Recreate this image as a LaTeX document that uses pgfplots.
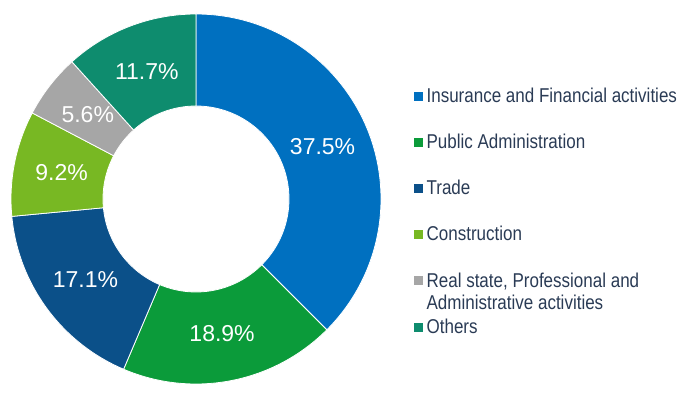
\documentclass[border=0pt]{standalone}
\usepackage{pgfplots}
\pgfplotsset{compat=1.18}
\usepackage{pgfplotstable}
\usepackage{fontspec}
\setmainfont{Liberation Sans}
\newfontfamily\legfont{Liberation Sans}[FakeStretch=0.85]
\definecolor{cIns}{HTML}{0070C0}
\definecolor{cPub}{HTML}{0B9B3A}
\definecolor{cTrade}{HTML}{0B5089}
\definecolor{cCon}{HTML}{78B823}
\definecolor{cReal}{HTML}{A6A6A6}
\definecolor{cOth}{HTML}{0E8C6E}
\definecolor{legtext}{HTML}{2A3B55}

\pgfplotstableread[col sep=comma]{
value,color
37.5,cIns
18.9,cPub
17.1,cTrade
9.2,cCon
5.6,cReal
11.7,cOth
}\donutdata

\newcommand\CX{196}
\newcommand\CY{188}
\newcommand\Rout{185}
\newcommand\Rin{93}
\newcommand\Rlab{137}

\begin{document}
\begin{tikzpicture}
\begin{axis}[
  width=687bp, height=387bp, scale only axis,
  xmin=0, xmax=687, ymin=0, ymax=387,
  hide axis, clip=false,
  legend style={at={(axis cs:414,301)}, anchor=north west, draw=none, fill=none,
    inner sep=0pt, row sep=26bp, column sep=2bp,
    font=\legfont\fontsize{20bp}{22bp}\selectfont, text=legtext},
  legend cell align=left,
  legend columns=1,
]
\pgfplotsextra{
  \path (axis cs:0,0) rectangle (axis cs:687,387);
  \pgfplotstablegetrowsof{\donutdata}%
  \pgfmathtruncatemacro\lastrow{\pgfplotsretval-1}%
  \gdef\startang{90}%
  \foreach \i in {0,...,\lastrow}{%
    \pgfplotstablegetelem{\i}{value}\of\donutdata \let\v\pgfplotsretval
    \pgfplotstablegetelem{\i}{color}\of\donutdata \let\c\pgfplotsretval
    \pgfmathsetmacro\endang{\startang-3.6*\v}%
    \pgfmathsetmacro\midang{(\startang+\endang)/2}%
    \pgfmathsetmacro\ax{\CX+\Rout*cos(\startang)}%
    \pgfmathsetmacro\ay{\CY+\Rout*sin(\startang)}%
    \pgfmathsetmacro\bx{\CX+\Rin*cos(\endang)}%
    \pgfmathsetmacro\by{\CY+\Rin*sin(\endang)}%
    \pgfmathsetmacro\lx{\CX+\Rlab*cos(\midang)}%
    \pgfmathsetmacro\ly{\CY+\Rlab*sin(\midang)}%
    \fill[\c, draw=white, line width=0.8bp] (axis cs:\ax,\ay)
      arc[start angle=\startang, end angle=\endang, radius=\Rout bp]
      -- (axis cs:\bx,\by)
      arc[start angle=\endang, end angle=\startang, radius=\Rin bp] -- cycle;
    \node[text=white, font=\fontsize{23bp}{23bp}\selectfont] at (axis cs:\lx,\ly) {\v\%};
    \xdef\startang{\endang}%
  }%
}
\pgfplotsset{legend image code/.code={\fill[#1] (0bp,-4bp) rectangle (8bp,4bp);}}
\addlegendimage{cIns}
\addlegendentry{Insurance and Financial activities}
\addlegendimage{cPub}
\addlegendentry{Public Administration}
\addlegendimage{cTrade}
\addlegendentry{Trade}
\addlegendimage{cCon}
\addlegendentry{Construction}
\addlegendimage{cReal}
\addlegendentry{\begin{tabular}[t]{@{}l@{}}Real state, Professional and\\Administrative activities\end{tabular}}
\addlegendimage{cOth}
\addlegendentry{Others}
\end{axis}
\end{tikzpicture}
\end{document}
